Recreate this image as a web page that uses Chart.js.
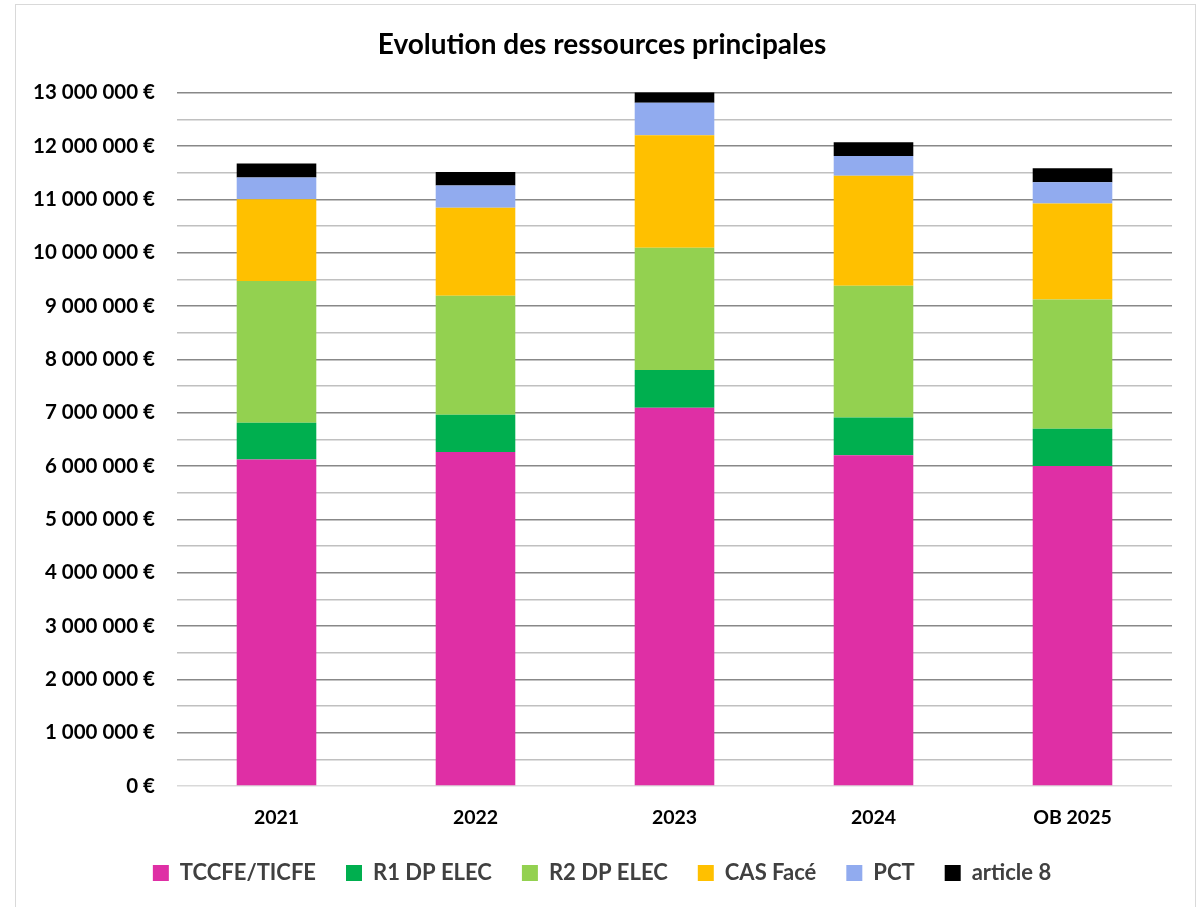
<!DOCTYPE html>
<html>
<head>
<meta charset="utf-8">
<script src="https://cdn.jsdelivr.net/npm/chart.js@4.4.0/dist/chart.umd.min.js"></script>
<style>
  body { margin: 0; background: #fff; }
  #frame { position: absolute; left: 15px; top: 4px; width: 1179px; height: 1000px; border: 1px solid #d9d9d9; }
  #wrap { position: absolute; left: 0; top: 0; width: 1204px; height: 907px; }
</style>
</head>
<body>
<div id="frame"></div>
<div id="wrap"><canvas id="myChart" width="1204" height="907"></canvas></div>
<script>
// years on the x axis
const labels = ["2021", "2022", "2023", "2024", "OB 2025"];

// amounts in euros
const tccfe  = [6120000, 6260000, 7090000, 6200000, 6000000];
const r1     = [690000, 700000, 710000, 710000, 700000];
const r2     = [2660000, 2230000, 2290000, 2470000, 2420000];
const cas    = [1530000, 1650000, 2110000, 2060000, 1800000];
const pct    = [410000, 420000, 610000, 370000, 400000];
const art8   = [260000, 250000, 200000, 260000, 260000];

const FONT = "Lato, 'Open Sans', sans-serif";

function euros(v) {
    return String(v).replace(/\B(?=(\d{3})+(?!\d))/g, " ") + " €";
}

const myChartRef = document.getElementById("myChart").getContext("2d");

new Chart(myChartRef, {
    type: "bar",
    data: {
        labels: labels,
        datasets: [
            { label: "TCCFE/TICFE", data: tccfe, backgroundColor: "#DF2FA5" },
            { label: "R1 DP ELEC", data: r1, backgroundColor: "#00AF4F" },
            { label: "R2 DP ELEC", data: r2, backgroundColor: "#93D150" },
            { label: "CAS Facé", data: cas, backgroundColor: "#FFC000" },
            { label: "PCT", data: pct, backgroundColor: "#91ABEF" },
            { label: "article 8", data: art8, backgroundColor: "#000000" }
        ]
    },
    options: {
        responsive: false,
        animation: false,
        layout: { padding: { left: 0, right: 0, top: 0, bottom: 13 } },
        datasets: { bar: { categoryPercentage: 1, barPercentage: 0.40 } },
        plugins: {
            title: {
                display: true,
                text: "Evolution des ressources principales",
                color: "#000",
                font: { family: FONT, size: 28, weight: "bold" },
                padding: { top: 28, bottom: 31 }
            },
            legend: {
                position: "bottom",
                labels: {
                    color: "#404040",
                    boxWidth: 16,
                    boxHeight: 16,
                    padding: 30,
                    font: { family: FONT, size: 22, weight: "bold" }
                }
            },
            tooltip: { enabled: false }
        },
        scales: {
            x: {
                stacked: true,
                grid: { display: false },
                border: { display: false },
                ticks: {
                    color: "#000",
                    padding: 12,
                    font: { family: FONT, size: 19.5, weight: "bold" }
                },
                afterFit: (scale) => { scale.height = 46; }
            },
            y: {
                stacked: true,
                min: 0,
                max: 13000000,
                border: { display: false },
                grid: {
                    drawTicks: false,
                    lineWidth: 1.5,
                    color: (ctx) => {
                        if (ctx.tick.value === 0) return "#d9d9d9";
                        return ctx.tick.value % 1000000 === 0 ? "#888888" : "#c0c0c0";
                    }
                },
                ticks: {
                    stepSize: 500000,
                    autoSkip: false,
                    color: "#000",
                    padding: 22,
                    font: { family: FONT, size: 20.5, weight: "bold" },
                    callback: (v) => (v % 1000000 === 0 ? euros(v) : "")
                },
                afterFit: (scale) => { scale.width = 177; }
            },
            // empty right-hand axis, only keeps a margin so the title stays centred on the page
            yRight: {
                position: "right",
                grid: { display: false },
                border: { display: false },
                ticks: { display: false },
                afterFit: (scale) => { scale.width = 32; }
            }
        }
    }
});
</script>
</body>
</html>
